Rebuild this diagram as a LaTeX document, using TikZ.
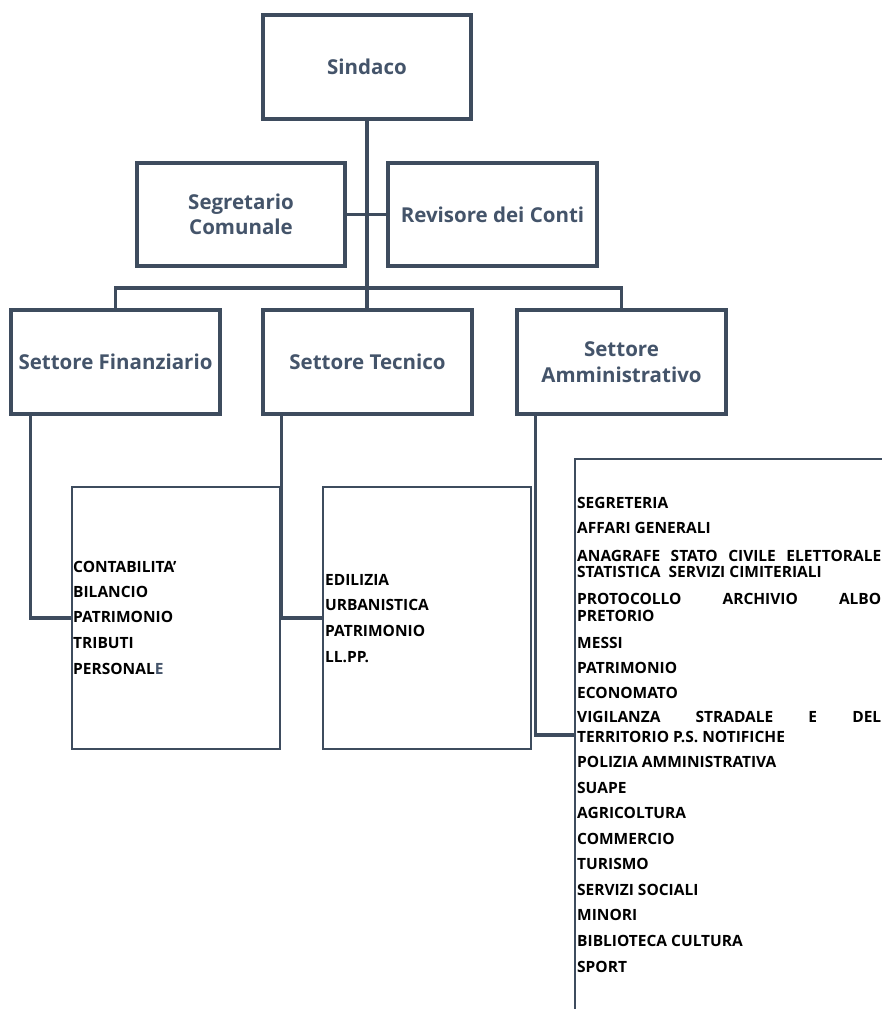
\documentclass[tikz,border=0pt]{standalone}
\usepackage{fontspec}
\setmainfont{Open Sans}
\definecolor{slate}{HTML}{44546A}
\definecolor{linec}{HTML}{3E4C5E}
\begin{document}
\begin{tikzpicture}[x=1pt,y=-1pt,
  hdbox/.style={draw=linec,line width=3.2pt,inner sep=0pt,align=center,text=slate,
     font=\bfseries\fontsize{20.5}{25.5}\selectfont},
  listbox/.style={draw=linec,line width=2.8pt,inner sep=0pt},
  conn/.style={draw=linec,line width=3.2pt},
  item/.style={anchor=base west,inner sep=0pt,text=black,font=\bfseries\fontsize{15.5}{17}\selectfont}]
\clip (0,0) rectangle (882,1009);
\fill[white] (0,0) rectangle (882,1009);
% top level
\node[hdbox,minimum width=208pt,minimum height=104pt] (sind) at (367,67) {Sindaco};
\node[hdbox,minimum width=208pt,minimum height=103pt] (seg) at (241,214.5) {Segretario\\Comunale};
\node[hdbox,minimum width=209pt,minimum height=103pt] (rev) at (492.5,214.5) {Revisore dei Conti};
% sectors
\node[hdbox,minimum width=209pt,minimum height=104pt] (fin) at (115.5,362) {Settore Finanziario};
\node[hdbox,minimum width=209pt,minimum height=104pt] (tec) at (367.5,362) {Settore Tecnico};
\node[hdbox,minimum width=209pt,minimum height=104pt] (amm) at (621.5,362) {Settore\\Amministrativo};
% list boxes
\node[listbox,minimum width=208pt,minimum height=262pt] (lf) at (176,618) {};
\node[listbox,minimum width=208pt,minimum height=262pt] (lt) at (427,618) {};
\node[listbox,minimum width=400pt,minimum height=552pt] (la) at (775,735) {};
% connectors
\coordinate (bus) at (367,288);
\draw[conn] (sind.south) -- (sind.south |- tec.north);
\draw[conn] (seg.east) -- (rev.west);
\draw[conn] (fin.north) |- (bus) -| (amm.north);
\draw[conn] ([xshift=21pt]fin.south west) |- (lf.west);
\draw[conn] ([xshift=20pt]tec.south west) |- (lt.west);
\draw[conn] ([xshift=20pt]amm.south west) |- (la.west);
% list texts: financial
\foreach \t/\y [count=\i] in {CONTABILITA’/572,BILANCIO/597,PATRIMONIO/622,TRIBUTI/648}
  \node[item] (f\i) at (73,\y) {\t};
\node[item] (f5) at (73,674) {PERSONAL\textcolor{slate}{E}};
% technical
\foreach \t/\y [count=\i] in {EDILIZIA/585,URBANISTICA/610,PATRIMONIO/636,LL.PP./662}
  \node[item] (t\i) at (325,\y) {\t};
% administrative
\foreach \t/\y [count=\i] in {SEGRETERIA/508,AFFARI GENERALI/533,PRETORIO/621,MESSI/648,PATRIMONIO/673,ECONOMATO/698,TERRITORIO P.S. NOTIFICHE/742,POLIZIA AMMINISTRATIVA/767,SUAPE/793,AGRICOLTURA/818,COMMERCIO/844,TURISMO/869,SERVIZI SOCIALI/895,MINORI/920,BIBLIOTECA CULTURA/946,SPORT/972}
  \node[item] (a\i) at (577,\y) {\t};
\node[item] (aj1) at (577,561) {\hbox to 304pt{ANAGRAFE\hfill STATO\hfill CIVILE\hfill ELETTORALE}};
\node[item] (aj2) at (577,577) {STATISTICA\ \ SERVIZI CIMITERIALI};
\node[item] (aj3) at (577,604) {\hbox to 304pt{PROTOCOLLO\hfill ARCHIVIO\hfill ALBO}};
\node[item] (aj4) at (577,722) {\hbox to 304pt{VIGILANZA\hfill STRADALE\hfill E\hfill DEL}};
\end{tikzpicture}
\end{document}
